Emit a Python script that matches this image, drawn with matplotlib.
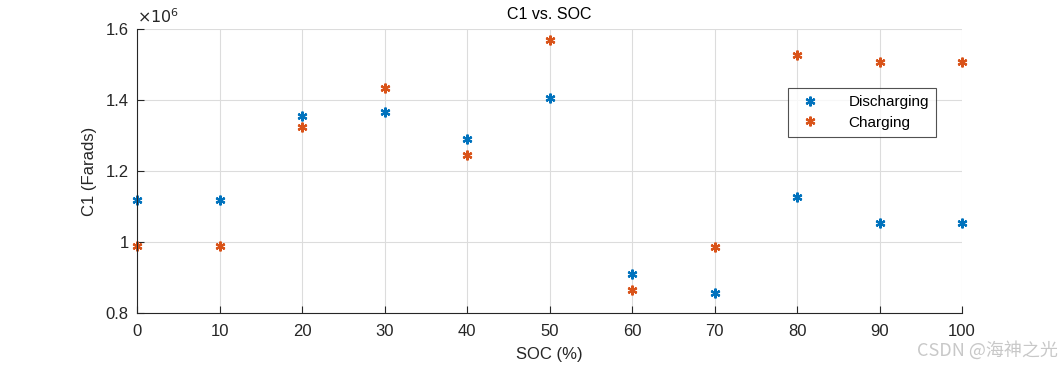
import matplotlib.pyplot as plt
from matplotlib.ticker import FuncFormatter

plt.rcParams['font.family'] = ['Liberation Sans', 'DejaVu Sans']

soc = [0, 10, 20, 30, 40, 50, 60, 70, 80, 90, 100]
c1_discharging = [1.118e6, 1.118e6, 1.355e6, 1.366e6, 1.290e6, 1.406e6,
                  0.910e6, 0.856e6, 1.127e6, 1.054e6, 1.054e6]
c1_charging = [0.989e6, 0.989e6, 1.324e6, 1.434e6, 1.245e6, 1.569e6,
               0.865e6, 0.986e6, 1.527e6, 1.507e6, 1.507e6]

fig = plt.figure(figsize=(10.63, 3.67), dpi=100)
ax = fig.add_axes([0.1289, 0.1471, 0.7761, 0.7739])

stern = (6, 2, 0)
ax.plot(soc, c1_discharging, linestyle='none', marker=stern, markersize=7,
        markeredgewidth=1.6, color='#0072BD', label='Discharging', clip_on=False)
ax.plot(soc, c1_charging, linestyle='none', marker=stern, markersize=7,
        markeredgewidth=1.6, color='#D95319', label='Charging', clip_on=False)

ax.set_xlim(0, 100)
ax.set_ylim(0.8e6, 1.6e6)
ax.set_xticks(range(0, 101, 10))
ax.set_yticks([0.8e6, 1.0e6, 1.2e6, 1.4e6, 1.6e6])
ax.yaxis.set_major_formatter(FuncFormatter(lambda v, p: f'{v / 1e6:g}'))
ax.grid(True, color='#dcdcdc', linewidth=0.8)
ax.set_axisbelow(True)
ax.tick_params(direction='in', labelsize=12, colors='#262626', length=5)
ax.tick_params(axis='x', pad=8)
ax.tick_params(axis='y', pad=6)
for s in ['top', 'right']:
    ax.spines[s].set_visible(False)
for s in ['left', 'bottom']:
    ax.spines[s].set_color('#262626')

ax.set_title('C1 vs. SOC', fontsize=11.5, color='#000000', pad=7)
ax.set_xlabel('SOC (%)', fontsize=12, color='#262626', labelpad=6)
ax.set_ylabel('C1 (Farads)', fontsize=12, color='#262626', labelpad=6)
ax.text(0.0, 1.01, r'$\times 10^{6}$', transform=ax.transAxes, fontsize=11.5,
        color='#262626', va='bottom', ha='left')

leg = ax.legend(loc='upper left', bbox_to_anchor=(0.789, 0.792), fontsize=11,
                frameon=True, fancybox=False, edgecolor='#262626',
                borderaxespad=0, borderpad=0.45, handletextpad=1.5,
                labelspacing=0.45)
leg.get_frame().set_linewidth(0.8)

fig.text(0.995, 0.02, 'CSDN @海神之光', fontsize=13, color='#c8c8c8',
         ha='right', va='bottom',
         family=['Noto Sans CJK SC', 'DejaVu Sans'])

fig.savefig('out.png', dpi=100)
